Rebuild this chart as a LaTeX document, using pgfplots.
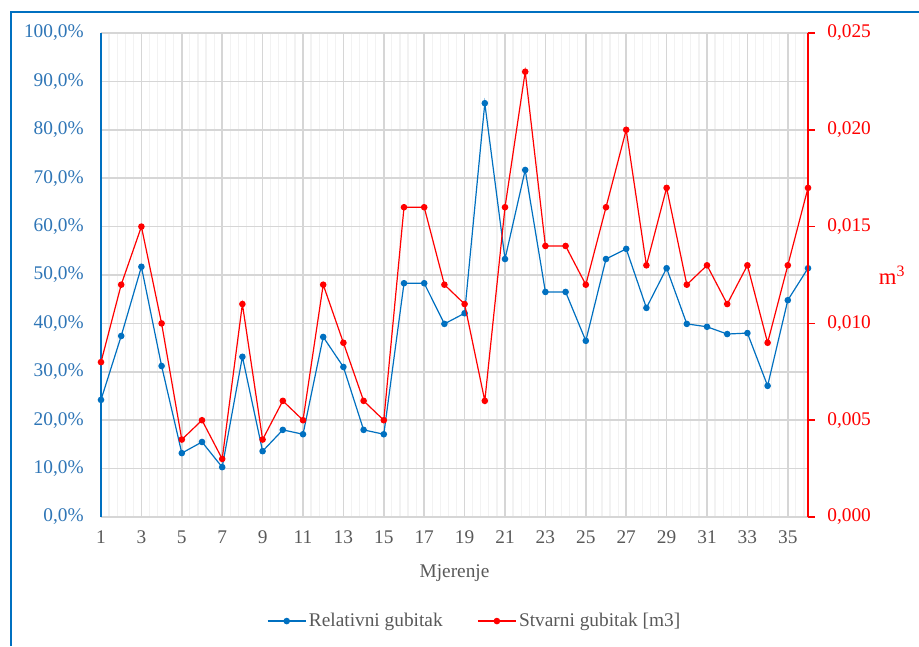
\documentclass[border=0pt]{standalone}
\usepackage{fontspec}
\setmainfont{Liberation Serif}
\usepackage{pgfplots}
\pgfplotsset{compat=1.18}
\definecolor{xblue}{HTML}{0070C0}
\definecolor{lblue}{HTML}{2E75B6}
\definecolor{xred}{HTML}{FF0000}
\definecolor{txtgray}{HTML}{595959}
\definecolor{gmaj}{HTML}{D6D6D6}
\definecolor{gmin}{HTML}{F2F2F2}
\newcommand{\tfont}{\fontsize{14.5}{17}\selectfont}
\pgfplotsset{
  mylegimg/.style={legend image code/.code={\draw[mark repeat=2,mark phase=2] plot coordinates {(0cm,0cm)(0.5cm,0cm)(1cm,0cm)};}}
}
\begin{document}
\begin{tikzpicture}
\useasboundingbox (-75.75pt,-96.75pt) rectangle (613.5pt,387.75pt);
\draw[xblue, line width=1.5pt] (-67.5pt,-96.75pt) -- (-67.5pt,378.75pt) -- (613.5pt,378.75pt);
\begin{axis}[
  at={(0,0)}, anchor=south west,
  scale only axis, width=530.25pt, height=363pt,
  /pgf/number format/assume math mode=true,
  xmin=1, xmax=36, ymin=0, ymax=100,
  axis x line*=bottom, axis y line*=left,
  x axis line style={draw=gmaj, line width=1.1pt, -},
  y axis line style={draw=xblue, line width=1.2pt, -},
  xtick={1,3,...,35},
  minor xtick={1,1.4,...,36},
  ytick={0,10,...,100},
  yticklabels={{0,0\%},{10,0\%},{20,0\%},{30,0\%},{40,0\%},{50,0\%},{60,0\%},{70,0\%},{80,0\%},{90,0\%},{100,0\%}},
  xmajorgrids, xminorgrids, ymajorgrids,
  major grid style={gmaj, line width=1.1pt},
  minor grid style={gmin, line width=0.9pt},
  tick style={draw=none},
  xticklabel style={font=\tfont, text=txtgray, yshift=-7pt},
  yticklabel style={font=\tfont, text=lblue, xshift=-9.5pt},
  xlabel={Mjerenje},
  xlabel style={font=\tfont, text=txtgray, yshift=-9pt},
  clip=false,
]
\addplot[xblue, line width=0.9pt, mark=*, mark size=2pt, mark options={solid}] coordinates {
(1,24.2)(2,37.4)(3,51.7)(4,31.2)(5,13.2)(6,15.5)(7,10.3)(8,33.1)(9,13.6)(10,18.0)
(11,17.1)(12,37.2)(13,31.0)(14,18.0)(15,17.1)(16,48.3)(17,48.3)(18,39.9)(19,42.1)(20,85.5)
(21,53.3)(22,71.7)(23,46.5)(24,46.5)(25,36.4)(26,53.3)(27,55.4)(28,43.2)(29,51.4)(30,39.9)
(31,39.3)(32,37.8)(33,38.0)(34,27.1)(35,44.8)(36,51.4)};
\end{axis}
\begin{axis}[
  at={(0,0)}, anchor=south west,
  scale only axis, width=530.25pt, height=363pt,
  /pgf/number format/assume math mode=true,
  xmin=1, xmax=36, ymin=0, ymax=0.025,
  axis x line=none, axis y line*=right,
  y axis line style={draw=xred, line width=1.2pt, -},
  ytick={0,0.005,0.01,0.015,0.02,0.025},
  yticklabels={{0,000},{0,005},{0,010},{0,015},{0,020},{0,025}},
  scaled y ticks=false,
  ytick style={draw=xred, line width=1.2pt},
  tick align=outside, major tick length=5pt,
  yticklabel style={font=\tfont, text=xred, xshift=6pt},
  ylabel={m\textsuperscript{3}},
  every axis y label/.style={at={(rel axis cs:1,0.5)}, anchor=center, xshift=63pt, font=\fontsize{17}{20}\selectfont, text=xred},
  legend style={at={(0.529,-0.215)}, anchor=center, draw=none, legend columns=2, font=\tfont, text=txtgray, /tikz/every even column/.append style={column sep=24pt}},
  clip=false,
]
\addlegendimage{xblue, line width=0.9pt, mark=*, mark size=2pt, mark options={solid}, mylegimg}
\addlegendentry{Relativni gubitak}
\addplot[xred, line width=0.9pt, mark=*, mark size=2pt, mark options={solid}, mylegimg] coordinates {
(1,0.008)(2,0.012)(3,0.015)(4,0.010)(5,0.004)(6,0.005)(7,0.003)(8,0.011)(9,0.004)(10,0.006)
(11,0.005)(12,0.012)(13,0.009)(14,0.006)(15,0.005)(16,0.016)(17,0.016)(18,0.012)(19,0.011)(20,0.006)
(21,0.016)(22,0.023)(23,0.014)(24,0.014)(25,0.012)(26,0.016)(27,0.020)(28,0.013)(29,0.017)(30,0.012)
(31,0.013)(32,0.011)(33,0.013)(34,0.009)(35,0.013)(36,0.017)};
\addlegendentry{Stvarni gubitak [m3]}
\end{axis}
\end{tikzpicture}
\end{document}
